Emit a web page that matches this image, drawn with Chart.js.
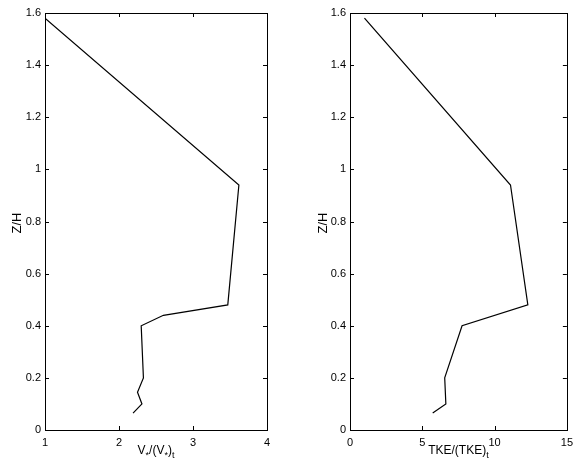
<!DOCTYPE html>
<html>
<head>
<meta charset="utf-8">
<script src="https://cdn.jsdelivr.net/npm/chart.js@4/dist/chart.umd.min.js"></script>
<style>
  html, body { margin: 0; padding: 0; background: #fff; }
  #wrap { position: relative; width: 579px; height: 469px; }
  .box { position: absolute; top: 0; height: 469px; }
</style>
</head>
<body>
<div id="wrap">
  <div class="box" style="left:0;width:290px"><canvas id="vel"></canvas></div>
  <div class="box" style="left:290px;width:289px"><canvas id="tke"></canvas></div>
</div>
<script>
// profile heights (Z/H)
var zVel = [1.58, 0.94, 0.48, 0.44, 0.40, 0.20, 0.145, 0.10, 0.065];
var velRatio = [1.0, 3.62, 3.47, 2.6, 2.3, 2.33, 2.25, 2.31, 2.19];

var zTke = [1.58, 0.94, 0.48, 0.40, 0.20, 0.10, 0.065];
var tkeRatio = [1.0, 11.1, 12.3, 7.75, 6.55, 6.63, 5.72];

var zTicks = [0, 0.2, 0.4, 0.6, 0.8, 1, 1.2, 1.4, 1.6];

var FONT = "'Liberation Sans', Arial, Helvetica, sans-serif";

function pts(xs, ys) {
	return xs.map(function (x, i) { return { x: x, y: ys[i] }; });
}

// box, inward ticks on all sides, and axis titles (with subscripts)
var framePlugin = {
	id: "frame",
	afterDraw: function (chart) {
		var ctx = chart.ctx, a = chart.chartArea;
		var sx = chart.scales.x, sy = chart.scales.y;
		var o = chart.options.plugins.frame;
		ctx.save();
		ctx.strokeStyle = "#000";
		ctx.lineWidth = 1;
		ctx.strokeRect(Math.round(a.left) + 0.5, Math.round(a.top) + 0.5,
			Math.round(a.right - a.left), Math.round(a.bottom - a.top));
		ctx.beginPath();
		sx.ticks.forEach(function (t) {
			var px = Math.round(sx.getPixelForValue(t.value)) + 0.5;
			ctx.moveTo(px, a.bottom); ctx.lineTo(px, a.bottom - 4);
			ctx.moveTo(px, a.top); ctx.lineTo(px, a.top + 4);
		});
		sy.ticks.forEach(function (t) {
			var py = Math.round(sy.getPixelForValue(t.value)) + 0.5;
			ctx.moveTo(a.left, py); ctx.lineTo(a.left + 4, py);
			ctx.moveTo(a.right, py); ctx.lineTo(a.right - 4, py);
		});
		ctx.stroke();

		// x title
		ctx.fillStyle = "#000";
		ctx.textBaseline = "alphabetic";
		var segs = o.xTitle, w = 0;
		segs.forEach(function (s) {
			ctx.font = (s[1] ? "9px " : "12px ") + FONT;
			w += ctx.measureText(s[0]).width;
		});
		var x = (a.left + a.right) / 2 - w / 2, base = 454;
		segs.forEach(function (s) {
			ctx.font = (s[1] ? "9px " : "12px ") + FONT;
			ctx.textAlign = "left";
			ctx.fillText(s[0], x, base + (s[1] ? 4 : 0));
			x += ctx.measureText(s[0]).width;
		});

		// y title
		ctx.translate(o.yTitleX, 223);
		ctx.rotate(-Math.PI / 2);
		ctx.font = "13px " + FONT;
		ctx.textAlign = "center";
		ctx.textBaseline = "middle";
		ctx.fillText("Z/H", 0, 0);
		ctx.restore();
	}
};

function makeChart(id, xs, ys, xMin, xMax, xStep, yAxisW, padRight, xTitle, yTitleX) {
	return new Chart(document.getElementById(id), {
		type: "scatter",
		data: {
			datasets: [{
				data: pts(xs, ys),
				showLine: true,
				borderColor: "#000",
				borderWidth: 1.2,
				pointRadius: 0,
				tension: 0
			}]
		},
		options: {
			responsive: true,
			maintainAspectRatio: false,
			animation: false,
			layout: { padding: { left: 0, right: padRight, top: 13, bottom: 0 } },
			plugins: {
				legend: { display: false },
				tooltip: { enabled: false },
				frame: { xTitle: xTitle, yTitleX: yTitleX }
			},
			scales: {
				x: {
					type: "linear",
					min: xMin, max: xMax,
					grid: { display: false, drawTicks: false },
					border: { display: false },
					ticks: {
						stepSize: xStep, padding: 6, color: "#000",
						font: { family: FONT, size: 11 },
						callback: function (v) { return String(+v.toFixed(2)); }
					},
					afterFit: function (s) { s.height = 39; }
				},
				y: {
					type: "linear",
					min: 0, max: 1.6,
					grid: { display: false, drawTicks: false },
					border: { display: false },
					afterBuildTicks: function (s) {
						s.ticks = zTicks.map(function (v) { return { value: v }; });
					},
					ticks: {
						padding: 4, color: "#000",
						font: { family: FONT, size: 11 },
						callback: function (v) { return String(+v.toFixed(2)); }
					},
					afterFit: function (s) { s.width = yAxisW; }
				}
			}
		},
		plugins: [framePlugin]
	});
}

makeChart("vel", velRatio, zVel, 1, 4, 1, 45, 23,
	[["V", 0], ["*", 1], ["/(V", 0], ["*", 1], [")", 0], ["t", 1]], 17);
makeChart("tke", tkeRatio, zTke, 0, 15, 5, 60, 6,
	[["TKE/(TKE)", 0], ["t", 1]], 33);
</script>
</body>
</html>
